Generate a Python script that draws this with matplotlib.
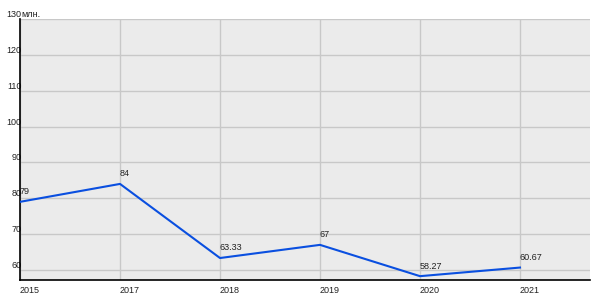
import matplotlib
matplotlib.use("Agg")
import matplotlib.pyplot as plt

years = ["2015", "2017", "2018", "2019", "2020", "2021"]
values = [79, 84, 63.33, 67, 58.27, 60.67]
value_labels = ["79", "84", "63.33", "67", "58.27", "60.67"]
y_ticks = [60, 70, 80, 90, 100, 110, 120, 130]
unit = "млн."

plt.rcParams['font.family'] = ['Liberation Sans', 'DejaVu Sans']

fig = plt.figure(figsize=(6, 3), dpi=100)
ax = fig.add_axes([20 / 600, 20 / 300, 570 / 600, 261 / 300])
ax.set_facecolor("#ebebeb")

x = list(range(len(years)))
ax.plot(x, values, color="#0a4fe0", linewidth=1.5, zorder=3)

for xi, v, lab in zip(x, values, value_labels):
    ax.annotate(lab, (xi, v), xytext=(0, 4), textcoords="offset points",
                ha="left", va="bottom", fontsize=6.5, color="#222222")

ax.set_xlim(0, 5.7)
ax.set_ylim(57.2, 130)
ax.set_xticks(x)
ax.set_xticklabels(years)
ax.set_yticks(y_ticks)
ax.grid(True, color="#c8c8c8", linewidth=1)
ax.set_axisbelow(True)

ax.tick_params(axis="both", length=0, labelsize=6.5, colors="#222222")
ax.tick_params(axis="y", pad=-1)
ax.tick_params(axis="x", pad=4)
for lbl in ax.get_yticklabels():
    lbl.set_verticalalignment("bottom")
for lbl in ax.get_xticklabels():
    lbl.set_horizontalalignment("left")

ax.spines["top"].set_visible(False)
ax.spines["right"].set_visible(False)
ax.spines["left"].set_color("black")
ax.spines["bottom"].set_color("black")
ax.spines["left"].set_linewidth(1.2)
ax.spines["bottom"].set_linewidth(1.2)

ax.text(0.002, 1.0, unit, transform=ax.transAxes, ha="left", va="bottom",
        fontsize=6.5, color="#222222")

fig.savefig("out.png", dpi=100)
plt.close(fig)
